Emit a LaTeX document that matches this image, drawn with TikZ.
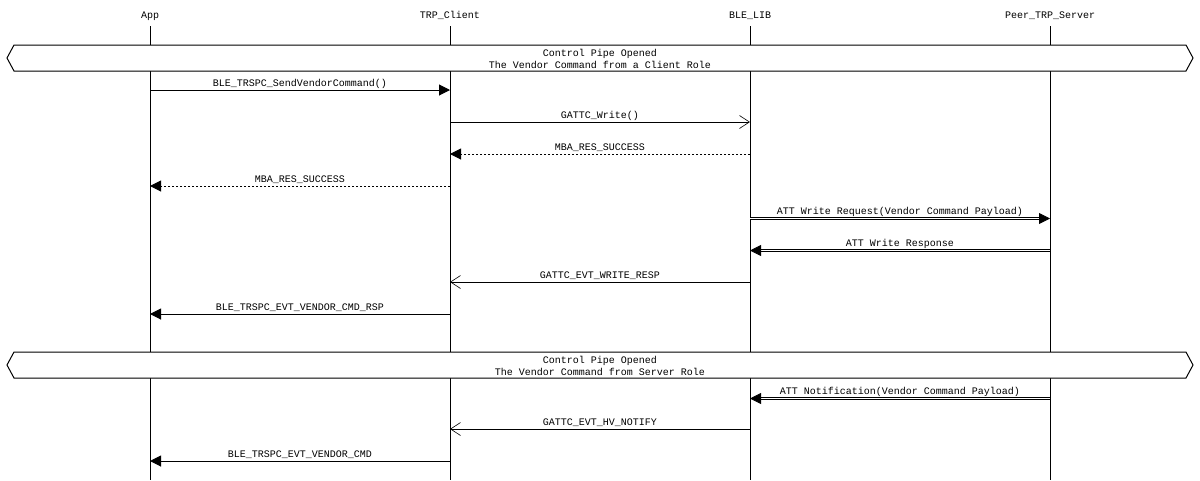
\documentclass[tikz,border=0pt]{standalone}
\usepackage{fontspec}
\setmonofont{Liberation Mono}
\usetikzlibrary{arrows.meta}

\tikzset{
  lbl/.style={font=\ttfamily\fontsize{10}{12}\selectfont, inner sep=0pt},
  msglbl/.style={lbl, anchor=base, pos=0.5, yshift=4pt},
  life/.style={line width=1pt},
  call/.style={line width=1pt, -{Triangle[length=11pt,width=11pt]}},
  async/.style={line width=1pt, -{Straight Barb[length=10pt,width=13pt,line width=0.6pt]}},
  ret/.style={line width=1pt, dash pattern=on 2pt off 2pt, -{Triangle[length=11pt,width=11pt]}},
  dbl/.style={double, double distance=1.2pt, line width=0.8pt, -{Triangle[length=11pt,width=11pt]}},
  pipe/.style={draw, fill=white, line width=1pt}
}

\begin{document}
\begin{tikzpicture}[x=1pt, y=-1pt]
\useasboundingbox (0,0) rectangle (1200,480);
% entities
\node[lbl, anchor=base] (app)  at (150,18)  {App};
\node[lbl, anchor=base] (trp)  at (450,18)  {TRP\_Client};
\node[lbl, anchor=base] (ble)  at (750,18)  {BLE\_LIB};
\node[lbl, anchor=base] (peer) at (1050,18) {Peer\_TRP\_Server};
\foreach \n in {app,trp,ble,peer}
  \draw[life] (\n |- 0,26) -- (\n |- 0,480);

% client role
\draw[pipe] (14,45) -- (1186,45) -- (1193,58) -- (1186,71) -- (14,71) -- (7,58) -- cycle;
\node[lbl, align=center] (pipeA) at (600,58.5) {Control Pipe Opened\\The Vendor Command from a Client Role};
\draw[call]  (app |- 0,90)  -- (trp |- 0,90)  node[msglbl] {BLE\_TRSPC\_SendVendorCommand()};
\draw[async] (trp |- 0,122) -- (ble |- 0,122) node[msglbl] {GATTC\_Write()};
\draw[ret]   (ble |- 0,154) -- (trp |- 0,154) node[msglbl] {MBA\_RES\_SUCCESS};
\draw[ret]   (trp |- 0,186) -- (app |- 0,186) node[msglbl] {MBA\_RES\_SUCCESS};
\draw[dbl]   (ble |- 0,218.5) -- (peer |- 0,218.5) node[msglbl] {ATT Write Request(Vendor Command Payload)};
\draw[dbl]   (peer |- 0,250.5) -- (ble |- 0,250.5) node[msglbl] {ATT Write Response};
\draw[async] (ble |- 0,282) -- (trp |- 0,282) node[msglbl] {GATTC\_EVT\_WRITE\_RESP};
\draw[call]  (trp |- 0,314) -- (app |- 0,314) node[msglbl] {BLE\_TRSPC\_EVT\_VENDOR\_CMD\_RSP};

% server role
\draw[pipe] (14,352) -- (1186,352) -- (1193,365) -- (1186,378) -- (14,378) -- (7,365) -- cycle;
\node[lbl, align=center] (pipeB) at (600,365.5) {Control Pipe Opened\\The Vendor Command from Server Role};
\draw[dbl]   (peer |- 0,398.5) -- (ble |- 0,398.5) node[msglbl] {ATT Notification(Vendor Command Payload)};
\draw[async] (ble |- 0,429) -- (trp |- 0,429) node[msglbl] {GATTC\_EVT\_HV\_NOTIFY};
\draw[call]  (trp |- 0,461) -- (app |- 0,461) node[msglbl] {BLE\_TRSPC\_EVT\_VENDOR\_CMD};
\end{tikzpicture}
\end{document}
